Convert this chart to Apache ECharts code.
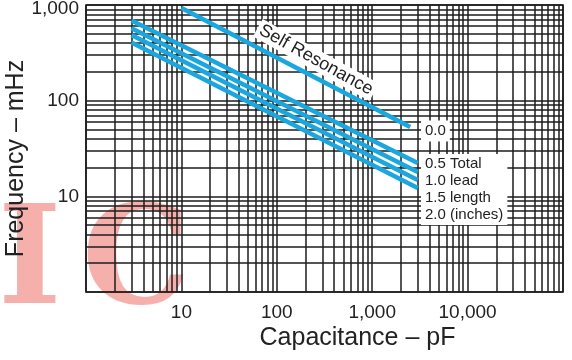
<!DOCTYPE html>
<html>
<head>
<meta charset="utf-8">
<title>Frequency vs Capacitance</title>
<script src="https://cdn.jsdelivr.net/npm/echarts@6/dist/echarts.min.js"></script>
<style>
    html, body { margin: 0; padding: 0; background: #fff; }
    #chart { width: 572px; height: 360px; }
</style>
</head>
<body>
<div id="chart"></div>
<script>
// 数据
var capacitance = [3, 3000];          // pF, 引线曲线的起止点
var lead05 = [690, 22.3];             // 0.5 inch total lead
var lead10 = [570, 18];               // 1.0
var lead15 = [485, 14.8];             // 1.5
var lead20 = [405, 12.2];             // 2.0
var selfResCap = [10, 2500];          // 自谐振
var selfRes = [930, 53];

var xTicks = [10, 100, 1000, 10000];
var xTickLabels = ["10", "100", "1,000", "10,000"];
var yTicks = [10, 100, 1000];
var yTickLabels = ["10", "100", "{top|1,000}"];
var minorSteps = [2, 3, 4, 5, 6, 7, 8, 9];

var blue = "#1aa6df";
var ink = "#1c1c1c";
var font = "Liberation Sans";

function pairs(xs, ys) {
    return xs.map(function(x, i) { return [x, ys[i]]; });
}

// 对数网格的细分线 (2..9 倍)
var gridMarks = [];
[1, 10, 100, 1000, 10000].forEach(function(d) {
    minorSteps.forEach(function(m) { gridMarks.push({ xAxis: d * m }); });
});
[1, 10, 100].forEach(function(d) {
    minorSteps.forEach(function(m) { gridMarks.push({ yAxis: d * m }); });
});

function lookup(ticks, labels) {
    return function(v) {
        for (var i = 0; i < ticks.length; i++) {
            if (Math.abs(v - ticks[i]) < ticks[i] * 1e-6) return labels[i];
        }
        return "";
    };
}

function leadSeries(name, ys) {
    return {
        name: name,
        type: "line",
        z: 10,
        data: pairs(capacitance, ys),
        showSymbol: false,
        lineStyle: { color: blue, width: 4.5, cap: "butt" }
    };
}

var myChart = echarts.init(document.getElementById("chart"));

var option = {
    animation: false,
    grid: {
        left: 86,
        top: 5,
        right: 9,
        bottom: 68,
        containLabel: false,
        outerBoundsMode: "none",
        show: true,
        backgroundColor: "#fff",
        borderColor: ink,
        borderWidth: 1.6
    },
    xAxis: {
        type: "log",
        logBase: 10,
        min: 1,
        max: 100000,
        name: "Capacitance – pF",
        nameLocation: "middle",
        nameGap: 34,
        nameMoveOverlap: false,
        nameTextStyle: {
            fontFamily: font,
            fontSize: 25,
            color: "#222",
            padding: [0, 0, 0, 66]
        },
        axisLine: { show: false },
        axisTick: { show: false },
        axisLabel: {
            margin: 11,
            fontFamily: font,
            fontSize: 19,
            color: "#222",
            formatter: lookup(xTicks, xTickLabels)
        },
        splitLine: { show: true, lineStyle: { color: ink, width: 1.5 } }
    },
    yAxis: {
        type: "log",
        logBase: 10,
        min: 1,
        max: 1000,
        name: "Frequency – mHz",
        nameLocation: "middle",
        nameRotate: 90,
        nameGap: 57,
        nameMoveOverlap: false,
        nameTextStyle: {
            fontFamily: font,
            fontSize: 25,
            color: "#222",
            padding: [0, 20, 0, 0]
        },
        axisLine: { show: false },
        axisTick: { show: false },
        axisLabel: {
            margin: 7,
            fontFamily: font,
            fontSize: 19,
            color: "#222",
            formatter: lookup(yTicks, yTickLabels),
            rich: {
                top: {
                    fontFamily: font,
                    fontSize: 19,
                    color: "#222",
                    padding: [7, 0, 0, 0]
                }
            }
        },
        splitLine: { show: true, lineStyle: { color: ink, width: 1.5 } }
    },
    series: [
        {
            // 只用来画细分网格线
            name: "grid",
            type: "line",
            z: 1,
            data: [],
            markLine: {
                silent: true,
                z: 1,
                symbol: ["none", "none"],
                label: { show: false },
                lineStyle: { color: ink, width: 1.5, type: "solid" },
                data: gridMarks
            }
        },
        {
            name: "Self Resonance",
            type: "line",
            z: 10,
            data: pairs(selfResCap, selfRes),
            showSymbol: false,
            lineStyle: { color: blue, width: 4.5, cap: "butt" }
        },
        leadSeries("0.5", lead05),
        leadSeries("1.0", lead10),
        leadSeries("1.5", lead15),
        leadSeries("2.0", lead20)
    ],
    graphic: [
        {
            type: "text",
            x: 316,
            y: 60,
            rotation: -29 * Math.PI / 180,
            z: 20,
            style: {
                text: "Self Resonance",
                font: "18px Liberation Sans",
                fill: "#222",
                align: "center",
                verticalAlign: "middle",
                backgroundColor: "#fff",
                padding: [1, 3]
            }
        },
        {
            type: "text",
            x: 421,
            y: 131,
            z: 20,
            style: {
                text: "0.0",
                font: "15px Liberation Sans",
                fill: "#222",
                verticalAlign: "middle",
                backgroundColor: "#fff",
                padding: [3, 4]
            }
        },
        {
            type: "text",
            x: 421,
            y: 154,
            z: 20,
            style: {
                text: "0.5 Total\n1.0 lead\n1.5 length\n2.0 (inches)",
                font: "15px Liberation Sans",
                lineHeight: 17,
                fill: "#222",
                backgroundColor: "#fff",
                padding: [1, 4, 2, 4]
            }
        },
        // 水印
        {
            type: "group",
            z: 50,
            children: [
                {
                    type: "text",
                    x: -2,
                    y: 200,
                    style: {
                        text: "I",
                        font: "bold 136px DejaVu Serif",
                        fill: "rgba(230,40,30,0.37)",
                        verticalAlign: "top"
                    }
                },
                {
                    type: "text",
                    x: 82,
                    y: 200,
                    style: {
                        text: "C",
                        font: "bold 136px DejaVu Serif",
                        fill: "rgba(230,40,30,0.37)",
                        verticalAlign: "top"
                    }
                }
            ]
        }
    ]
};

myChart.setOption(option);
window.addEventListener("resize", function() {
    myChart.resize();
});
</script>
</body>
</html>
